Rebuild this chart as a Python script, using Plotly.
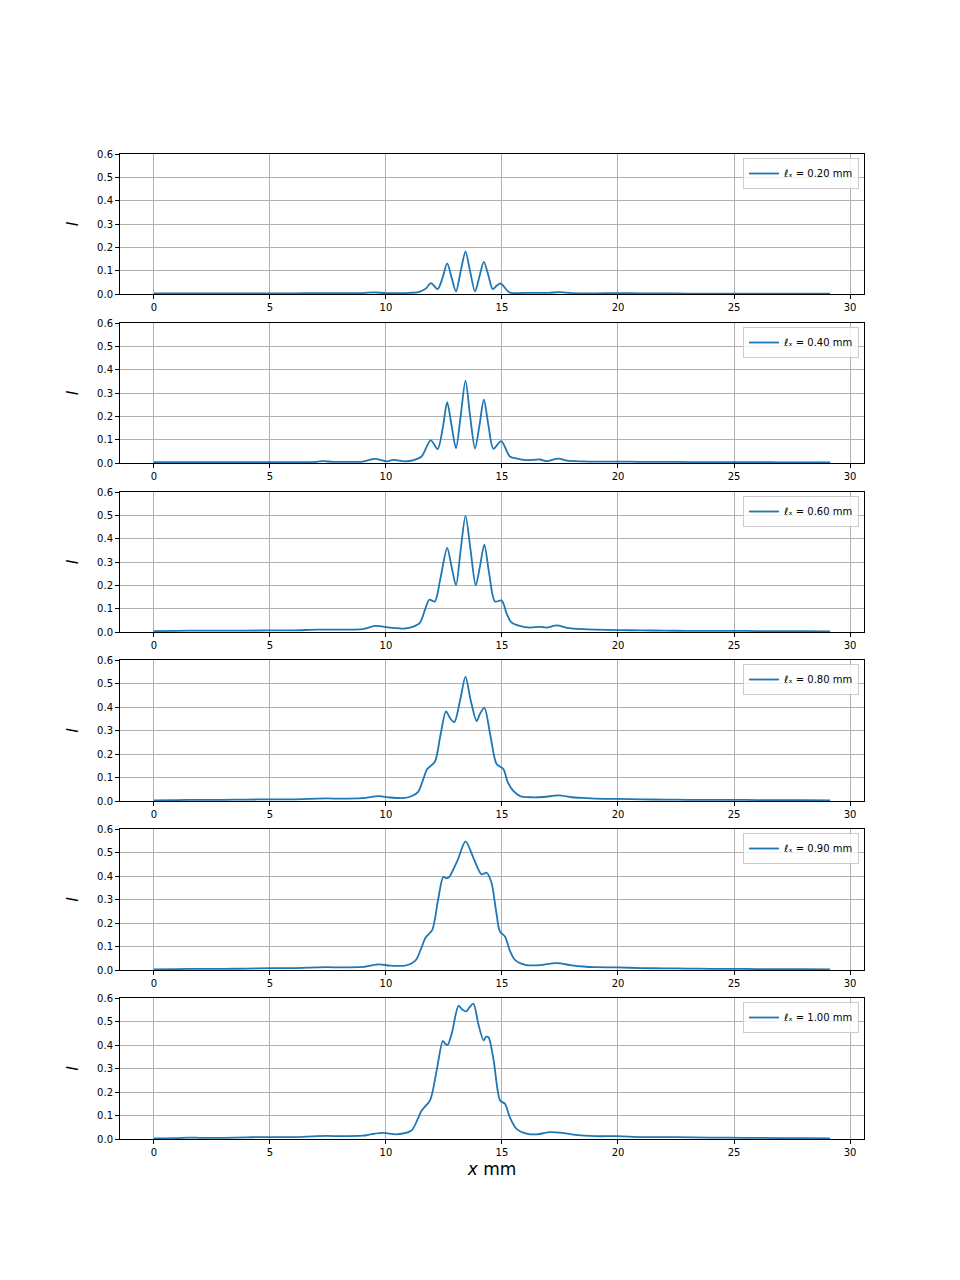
import plotly.graph_objects as go

# ---------------- data ----------------
labels = ["0.20", "0.40", "0.60", "0.80", "0.90", "1.00"]

x_020 = [0, 1, 2, 3, 4, 5, 6, 7, 8, 9, 9.5, 10, 10.5, 11, 11.4, 11.7, 11.94, 12.23, 12.45, 12.64,
         12.83, 13.02, 13.22, 13.43, 13.63, 13.84, 14.03, 14.22, 14.42, 14.60, 14.78, 14.94, 15.34,
         16, 17, 17.5, 18, 19, 20, 21, 22, 23, 24, 25, 26, 27, 28, 29.14]
y_020 = [0.003, 0.003, 0.003, 0.003, 0.003, 0.003, 0.003, 0.004, 0.004, 0.004, 0.007, 0.004, 0.004,
         0.005, 0.008, 0.022, 0.047, 0.021, 0.072, 0.131, 0.071, 0.011, 0.096, 0.181, 0.096, 0.011,
         0.075, 0.138, 0.078, 0.021, 0.036, 0.045, 0.006, 0.005, 0.005, 0.008, 0.004, 0.003, 0.004,
         0.003, 0.003, 0.002, 0.002, 0.002, 0.002, 0.002, 0.002, 0.002]

x_040 = [0, 1, 2, 3, 4, 5, 6, 7, 7.3, 7.7, 8, 9, 9.53, 10.03, 10.32, 10.82, 11.2, 11.54, 11.93,
         12.23, 12.45, 12.64, 12.83, 13.02, 13.22, 13.43, 13.63, 13.84, 14.03, 14.22, 14.42, 14.63,
         14.97, 15.34, 15.7, 16.06, 16.64, 16.92, 17.43, 17.8, 18.5, 19, 20, 21, 22, 23, 24, 25, 26,
         27, 28, 29.14]
y_040 = [0.004, 0.004, 0.004, 0.004, 0.004, 0.004, 0.004, 0.005, 0.008, 0.005, 0.005, 0.006, 0.018,
         0.007, 0.013, 0.007, 0.012, 0.028, 0.097, 0.060, 0.150, 0.261, 0.160, 0.064, 0.200, 0.353,
         0.200, 0.062, 0.160, 0.271, 0.160, 0.061, 0.094, 0.028, 0.018, 0.012, 0.015, 0.008, 0.019,
         0.010, 0.007, 0.006, 0.006, 0.005, 0.005, 0.004, 0.004, 0.004, 0.004, 0.003, 0.003, 0.003]

x_060 = [0, 1, 2, 3, 4, 5, 6, 7, 7.5, 8, 9, 9.53, 10.17, 10.82, 11.15, 11.46, 11.7, 11.87, 12.11,
         12.35, 12.64, 12.83, 13.02, 13.22, 13.43, 13.65, 13.87, 14.05, 14.24, 14.45, 14.70, 14.99,
         15.2, 15.41, 15.8, 16.2, 16.64, 16.92, 17.36, 17.8, 18.5, 19, 20, 21, 22, 23, 24, 25, 26,
         27, 28, 29.14]
y_060 = [0.004, 0.005, 0.006, 0.006, 0.006, 0.007, 0.007, 0.010, 0.010, 0.010, 0.012, 0.026, 0.019,
         0.015, 0.022, 0.039, 0.100, 0.138, 0.131, 0.230, 0.360, 0.280, 0.200, 0.350, 0.498, 0.350,
         0.200, 0.280, 0.374, 0.250, 0.131, 0.135, 0.080, 0.041, 0.025, 0.019, 0.022, 0.019, 0.028,
         0.018, 0.012, 0.010, 0.008, 0.007, 0.006, 0.005, 0.005, 0.005, 0.004, 0.004, 0.004, 0.003]

x_080 = [0, 1, 2, 3, 4, 5, 6, 7, 7.5, 8, 9, 9.7, 10.17, 10.82, 11.1, 11.39, 11.6, 11.78, 12.11,
         12.35, 12.59, 12.78, 12.95, 13.2, 13.43, 13.65, 13.91, 14.05, 14.24, 14.5, 14.77, 15.06,
         15.25, 15.49, 15.8, 16.2, 16.8, 17.43, 18, 18.5, 19, 20, 21, 22, 23, 24, 25, 26, 27, 28, 29.14]
y_080 = [0.003, 0.004, 0.005, 0.005, 0.006, 0.007, 0.007, 0.010, 0.011, 0.010, 0.012, 0.021, 0.015,
         0.013, 0.020, 0.039, 0.090, 0.136, 0.167, 0.280, 0.381, 0.350, 0.336, 0.430, 0.529, 0.430,
         0.340, 0.370, 0.397, 0.280, 0.157, 0.136, 0.080, 0.043, 0.020, 0.016, 0.017, 0.024, 0.016,
         0.013, 0.010, 0.009, 0.007, 0.006, 0.005, 0.005, 0.005, 0.004, 0.004, 0.004, 0.003]

x_090 = [0, 1, 2, 3, 4, 5, 6, 7, 7.5, 8, 9, 9.7, 10.17, 10.82, 11.1, 11.32, 11.55, 11.72, 12.0,
         12.25, 12.47, 12.6, 12.73, 13.1, 13.43, 13.8, 14.12, 14.34, 14.55, 14.75, 14.91, 15.13,
         15.35, 15.56, 16.0, 16.5, 17.36, 18, 18.5, 19, 20, 21, 22, 23, 24, 25, 26, 27, 28, 29.14]
y_090 = [0.003, 0.004, 0.005, 0.005, 0.006, 0.008, 0.008, 0.011, 0.012, 0.011, 0.013, 0.024, 0.019,
         0.019, 0.028, 0.046, 0.100, 0.139, 0.171, 0.300, 0.396, 0.390, 0.396, 0.470, 0.547, 0.470,
         0.407, 0.414, 0.371, 0.250, 0.164, 0.143, 0.080, 0.043, 0.022, 0.020, 0.029, 0.020, 0.015,
         0.012, 0.011, 0.008, 0.007, 0.006, 0.005, 0.005, 0.004, 0.004, 0.004, 0.003]

x_100 = [0, 1, 1.5, 2, 3, 4, 4.5, 5, 6, 7, 7.5, 8, 9, 9.4, 9.9, 10.46, 11.1, 11.35, 11.54, 11.9,
         12.19, 12.45, 12.56, 12.66, 12.84, 13.13, 13.3, 13.46, 13.6, 13.77, 13.99, 14.21, 14.31,
         14.42, 14.64, 14.92, 15.13, 15.35, 15.63, 16.1, 16.5, 17.07, 17.5, 18, 19, 20, 21, 22.5,
         24, 25.5, 27, 28, 29.14]
y_100 = [0.003, 0.004, 0.006, 0.005, 0.005, 0.007, 0.008, 0.008, 0.008, 0.012, 0.013, 0.012, 0.014,
         0.021, 0.026, 0.020, 0.036, 0.080, 0.121, 0.164, 0.293, 0.417, 0.405, 0.400, 0.450, 0.567,
         0.550, 0.543, 0.560, 0.576, 0.486, 0.419, 0.435, 0.433, 0.336, 0.164, 0.150, 0.090, 0.043,
         0.022, 0.020, 0.029, 0.027, 0.020, 0.012, 0.012, 0.008, 0.008, 0.006, 0.005, 0.004, 0.004,
         0.003]

series = [(x_020, y_020), (x_040, y_040), (x_060, y_060), (x_080, y_080), (x_090, y_090), (x_100, y_100)]

x_ticks = [0, 5, 10, 15, 20, 25, 30]
y_ticks = [0.0, 0.1, 0.2, 0.3, 0.4, 0.5, 0.6]
x_range = [-1.457, 30.6]
y_range = [0, 0.6]

# ---------------- layout geometry (pixels) ----------------
W, H = 960, 1280
M_L, M_R, M_T, M_B = 120, 96, 154, 141
panel_top = [154, 323, 492, 660, 829, 998]
panel_bot = [294, 463, 632, 801, 970, 1139]
plot_h = H - M_T - M_B


def py2paper(py):
    return (H - M_B - py) / plot_h


fig = go.Figure()
layout = dict(
    width=W, height=H,
    margin=dict(l=M_L, r=M_R, t=M_T, b=M_B),
    paper_bgcolor="white", plot_bgcolor="white",
    font=dict(family="DejaVu Sans", size=10, color="black"),
)

for i, ((xs, ys), lab) in enumerate(zip(series, labels)):
    n = i + 1
    xa = "x" if n == 1 else f"x{n}"
    ya = "y" if n == 1 else f"y{n}"
    lg = "legend" if n == 1 else f"legend{n}"
    fig.add_trace(go.Scatter(
        x=xs, y=ys, mode="lines",
        line=dict(color="#1f77b4", width=1.8, shape="spline", smoothing=0.8),
        name=f"ℓₓ = {lab} mm",
        xaxis=xa, yaxis=ya, legend=lg, showlegend=True,
    ))
    axis_common = dict(
        showline=True, mirror=True, linecolor="black", linewidth=1,
        ticks="outside", ticklen=4, tickwidth=1, tickcolor="black",
        showgrid=True, gridcolor="#b0b0b0", gridwidth=1, zeroline=False,
        tickfont=dict(size=10, family="DejaVu Sans", color="black"),
    )
    xkey = "xaxis" if n == 1 else f"xaxis{n}"
    ykey = "yaxis" if n == 1 else f"yaxis{n}"
    layout[xkey] = dict(
        axis_common, domain=[0, 1], anchor=ya, range=x_range,
        tickvals=x_ticks, ticktext=[str(t) for t in x_ticks],
    )
    layout[ykey] = dict(
        axis_common, domain=[py2paper(panel_bot[i]), py2paper(panel_top[i])], anchor=xa,
        range=y_range, tickvals=y_ticks, ticktext=[f"{t:.1f}" for t in y_ticks],
        title=dict(text="I", font=dict(size=16, family="DejaVu Sans", style="italic"), standoff=14),
    )
    if n == 6:
        layout[xkey]["title"] = dict(text="<i>x</i> mm", font=dict(size=17, family="DejaVu Sans"),
                                     standoff=6)
    layout[lg] = dict(
        x=(859 - M_L) / (W - M_L - M_R), y=py2paper(panel_top[i] + 4),
        xanchor="right", yanchor="top", xref="paper", yref="paper",
        bgcolor="rgba(255,255,255,0.8)", bordercolor="#cccccc", borderwidth=1,
        font=dict(size=10, family="DejaVu Sans"), itemwidth=30,
        tracegroupgap=0,
    )

fig.update_layout(**layout)
fig.write_html("out.html")
